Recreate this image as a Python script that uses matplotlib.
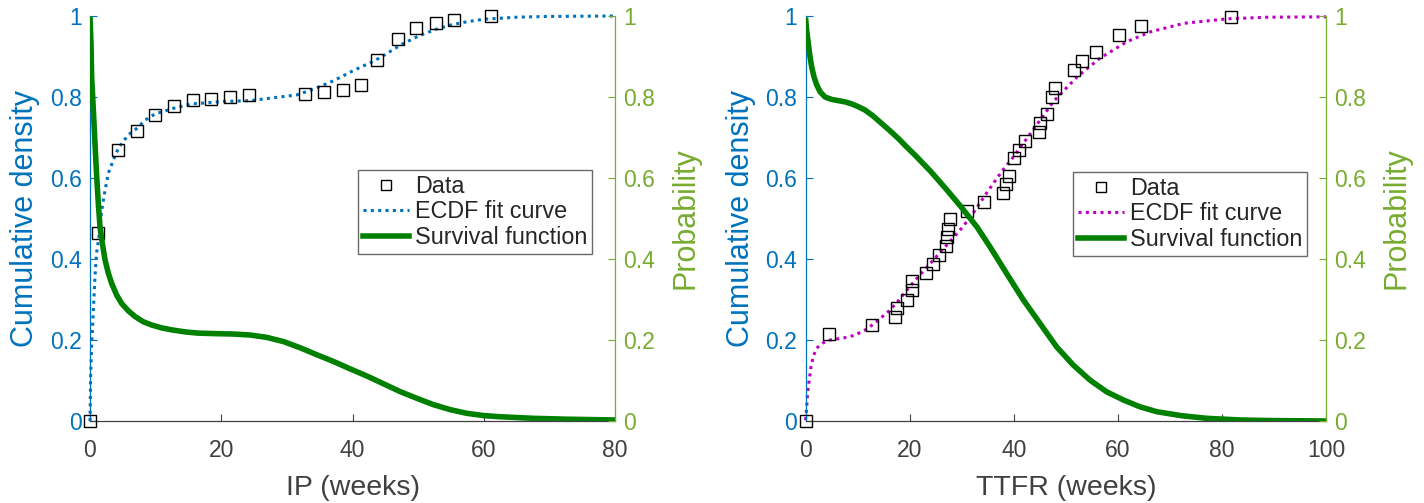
import matplotlib
matplotlib.use("Agg")
import matplotlib.pyplot as plt
from matplotlib.ticker import FormatStrFormatter
from matplotlib.lines import Line2D

plt.rcParams['font.family'] = ['Liberation Sans', 'DejaVu Sans']

# ---------------- data: left panel (IP) ----------------
ip_data_x = [0, 1.2, 4.3, 7.2, 9.9, 12.8, 15.7, 18.4, 21.3, 24.2, 32.8, 35.7,
             38.5, 41.3, 43.8, 46.9, 49.7, 52.7, 55.5, 61.1]
ip_data_y = [0, 0.464, 0.669, 0.716, 0.756, 0.778, 0.792, 0.796, 0.80, 0.805,
             0.808, 0.812, 0.817, 0.830, 0.891, 0.943, 0.970, 0.983, 0.990, 1.0]
ip_fit_x = [0, 0.1, 0.26, 0.5, 0.76, 1.0, 1.37, 1.78, 2.3, 2.8, 3.55, 4.3, 5.8,
            7.1, 8.4, 9.9, 12.7, 15.5, 17.3, 20.3, 24.4, 28.4, 31.5, 34, 37.1,
            40.1, 43.4, 45, 47.5, 50, 52.5, 55, 57.5, 60, 65, 70, 80]
ip_fit_y = [0, 0.11, 0.19, 0.27, 0.356, 0.415, 0.455, 0.52, 0.57, 0.612, 0.644,
            0.673, 0.706, 0.722, 0.743, 0.758, 0.772, 0.783, 0.785, 0.789, 0.791,
            0.799, 0.805, 0.819, 0.84, 0.865, 0.89, 0.905, 0.93, 0.95, 0.966,
            0.978, 0.986, 0.992, 0.997, 0.999, 1.0]
ip_surv_x = [0, 0.15, 0.25, 0.51, 0.76, 1.02, 1.27, 1.52, 1.88, 2.29, 2.79, 3.3,
             4.06, 4.83, 5.84, 6.86, 8.13, 9.4, 10.9, 12.45, 14.5, 16.5, 19.3,
             21.8, 24.4, 26.9, 29.5, 32.0, 34.5, 37.1, 39.6, 42.2, 44.7, 47.2,
             49.8, 52.3, 54.9, 57.4, 59.9, 62.5, 67.6, 72.6, 80]
ip_surv_y = [0.998, 0.932, 0.85, 0.768, 0.686, 0.603, 0.537, 0.48, 0.439, 0.398,
             0.365, 0.34, 0.311, 0.29, 0.272, 0.258, 0.245, 0.237, 0.23, 0.225,
             0.22, 0.217, 0.2156, 0.2148, 0.2123, 0.2066, 0.196, 0.181, 0.164,
             0.147, 0.129, 0.111, 0.092, 0.073, 0.056, 0.0405, 0.028, 0.019,
             0.0135, 0.0105, 0.0066, 0.0045, 0.0025]

# ---------------- data: right panel (TTFR) ----------------
tt_data_x = [0, 4.5, 12.8, 17.2, 17.5, 19.5, 20.4, 20.5, 23.2, 24.4, 25.7, 27.0,
             27.2, 27.3, 27.7, 31.1, 34.3, 38.0, 38.5, 39.1, 40.0, 41.1, 42.1,
             44.8, 45.1, 46.4, 47.3, 48.0, 51.6, 53.1, 55.9, 60.2, 64.5, 81.7]
tt_data_y = [0, 0.216, 0.237, 0.258, 0.28, 0.30, 0.323, 0.346, 0.366, 0.388,
             0.41, 0.432, 0.454, 0.475, 0.498, 0.519, 0.54, 0.563, 0.585, 0.606,
             0.649, 0.67, 0.692, 0.714, 0.737, 0.758, 0.80, 0.823, 0.866, 0.889,
             0.91, 0.954, 0.975, 0.997]
tt_fit_x = [0, 0.23, 0.4, 0.7, 1.06, 1.5, 2.15, 3.4, 4.7, 7.3, 9.5, 11.8, 13.7,
            15.9, 17.8, 20.1, 22, 24.6, 27.8, 30, 32, 34.8, 37.7, 40, 40.9, 43.8,
            47.7, 52.2, 56.6, 61.8, 66.3, 72.7, 81, 88.7, 100]
tt_fit_y = [0.002, 0.035, 0.068, 0.10, 0.134, 0.16, 0.18, 0.193, 0.2, 0.205,
            0.212, 0.227, 0.246, 0.27, 0.296, 0.333, 0.361, 0.398, 0.444, 0.476,
            0.509, 0.563, 0.616, 0.653, 0.669, 0.72, 0.79, 0.85, 0.896, 0.937,
            0.961, 0.982, 0.993, 0.997, 0.998]
tt_surv_x = [0, 0.22, 0.54, 0.86, 1.18, 1.63, 2.15, 2.79, 3.75, 5.03, 6.3, 7.6,
             8.87, 10.15, 11.4, 13.0, 14.6, 16.2, 17.8, 19.4, 21.0, 24.0, 27.0,
             30.0, 33.0, 35.45, 38.65, 41.85, 45.05, 48.25, 51.45, 54.66, 57.86,
             61.06, 64.27, 67.47, 72.3, 77.07, 83.5, 89.9, 100]
tt_surv_y = [0.996, 0.965, 0.932, 0.90, 0.875, 0.85, 0.83, 0.813, 0.80, 0.794,
             0.791, 0.788, 0.783, 0.776, 0.768, 0.753, 0.735, 0.717, 0.698,
             0.677, 0.657, 0.617, 0.573, 0.527, 0.478, 0.43, 0.364, 0.299, 0.241,
             0.183, 0.138, 0.101, 0.072, 0.052, 0.035, 0.023, 0.013, 0.0066,
             0.0025, 0.001, 0.0]

xlabels = ["IP (weeks)", "TTFR (weeks)"]
ylabel_left = "Cumulative density"
ylabel_right = "Probability"
legend_labels = ["Data", "ECDF fit curve", "Survival function"]

BLUE = "#0072BD"
GREEN_AX = "#77AC30"
GREEN = "#008000"
MAGENTA = "#C000C0"
GREY = "#404040"
DOTS = (0, (1, 1.4))

W, H = 1424, 503
fig = plt.figure(figsize=(W / 100, H / 100), dpi=100)

panels = [
    dict(rect=(90, 16, 615, 421), xmax=80, xticks=[0, 20, 40, 60, 80],
         dx=ip_data_x, dy=ip_data_y, fx=ip_fit_x, fy=ip_fit_y,
         sx=ip_surv_x, sy=ip_surv_y, fitcol=BLUE, xlabel=xlabels[0],
         leg=(358, 170)),
    dict(rect=(805.5, 16, 1326, 421), xmax=100, xticks=[0, 20, 40, 60, 80, 100],
         dx=tt_data_x, dy=tt_data_y, fx=tt_fit_x, fy=tt_fit_y,
         sx=tt_surv_x, sy=tt_surv_y, fitcol=MAGENTA, xlabel=xlabels[1],
         leg=(1073, 172)),
]

for p in panels:
    x0, y0, x1, y1 = p["rect"]
    ax = fig.add_axes([x0 / W, 1 - y1 / H, (x1 - x0) / W, (y1 - y0) / H])
    ax2 = ax.twinx()

    ax.plot(p["fx"], p["fy"], color=p["fitcol"], lw=2.2, linestyle=DOTS,
            zorder=2, clip_on=False)
    ax.plot(p["dx"], p["dy"], linestyle="none", marker="s", markersize=8,
            markerfacecolor="none", markeredgecolor="black",
            markeredgewidth=1.0, zorder=3, clip_on=False)
    ax2.plot(p["sx"], p["sy"], color=GREEN, lw=4.0, zorder=2,
             solid_capstyle='butt', solid_joinstyle='round')

    ax.set_xlim(0, p["xmax"])
    ax.set_ylim(0, 1)
    ax2.set_ylim(0, 1)
    ax.set_xticks(p["xticks"])
    ax.set_yticks([0, 0.2, 0.4, 0.6, 0.8, 1.0])
    ax2.set_yticks([0, 0.2, 0.4, 0.6, 0.8, 1.0])
    ax.yaxis.set_major_formatter(FormatStrFormatter('%g'))
    ax2.yaxis.set_major_formatter(FormatStrFormatter('%g'))

    for a in (ax, ax2):
        a.spines['top'].set_visible(False)
    ax.spines['right'].set_visible(False)
    ax2.spines['left'].set_visible(False)
    ax2.spines['bottom'].set_visible(False)
    ax.spines['left'].set_color(BLUE)
    ax.spines['bottom'].set_color(GREY)
    ax2.spines['right'].set_color(GREEN_AX)
    for s in ('left', 'bottom'):
        ax.spines[s].set_linewidth(0.9)
    ax2.spines['right'].set_linewidth(0.9)

    ax.tick_params(axis='x', direction='in', length=5, width=0.8, colors=GREY,
                   labelsize=16.5, pad=13)
    ax.tick_params(axis='y', direction='in', length=5, width=0.8, colors=BLUE,
                   labelsize=16.5, pad=6)
    ax2.tick_params(axis='y', direction='in', length=5, width=0.8,
                    colors=GREEN_AX, labelsize=16.5, pad=6)

    ax.set_xlabel(p["xlabel"], fontsize=20.5, color=GREY, labelpad=9)
    ax.set_ylabel(ylabel_left, fontsize=22, color=BLUE, labelpad=7)
    ax2.set_ylabel(ylabel_right, fontsize=22, color=GREEN_AX, labelpad=11)

    handles = [
        Line2D([], [], linestyle="none", marker="s", markersize=6.5,
               markerfacecolor="none", markeredgecolor="black",
               markeredgewidth=1.0),
        Line2D([], [], color=p["fitcol"], lw=2.2, linestyle=DOTS),
        Line2D([], [], color=GREEN, lw=4.0),
    ]
    lx, ly = p["leg"]
    leg = ax2.legend(handles, legend_labels, loc='upper left',
                     bbox_to_anchor=((lx - x0) / (x1 - x0), (y1 - ly) / (y1 - y0)),
                     fontsize=16.8, frameon=True, fancybox=False,
                     edgecolor="#6a6a6a", framealpha=1, borderpad=0.2,
                     handlelength=2.0, handletextpad=0.25, labelspacing=0.12,
                     borderaxespad=0)
    leg.get_frame().set_linewidth(1.0)
    for t in leg.get_texts():
        t.set_color("#262626")

fig.savefig("out.png", dpi=100)
